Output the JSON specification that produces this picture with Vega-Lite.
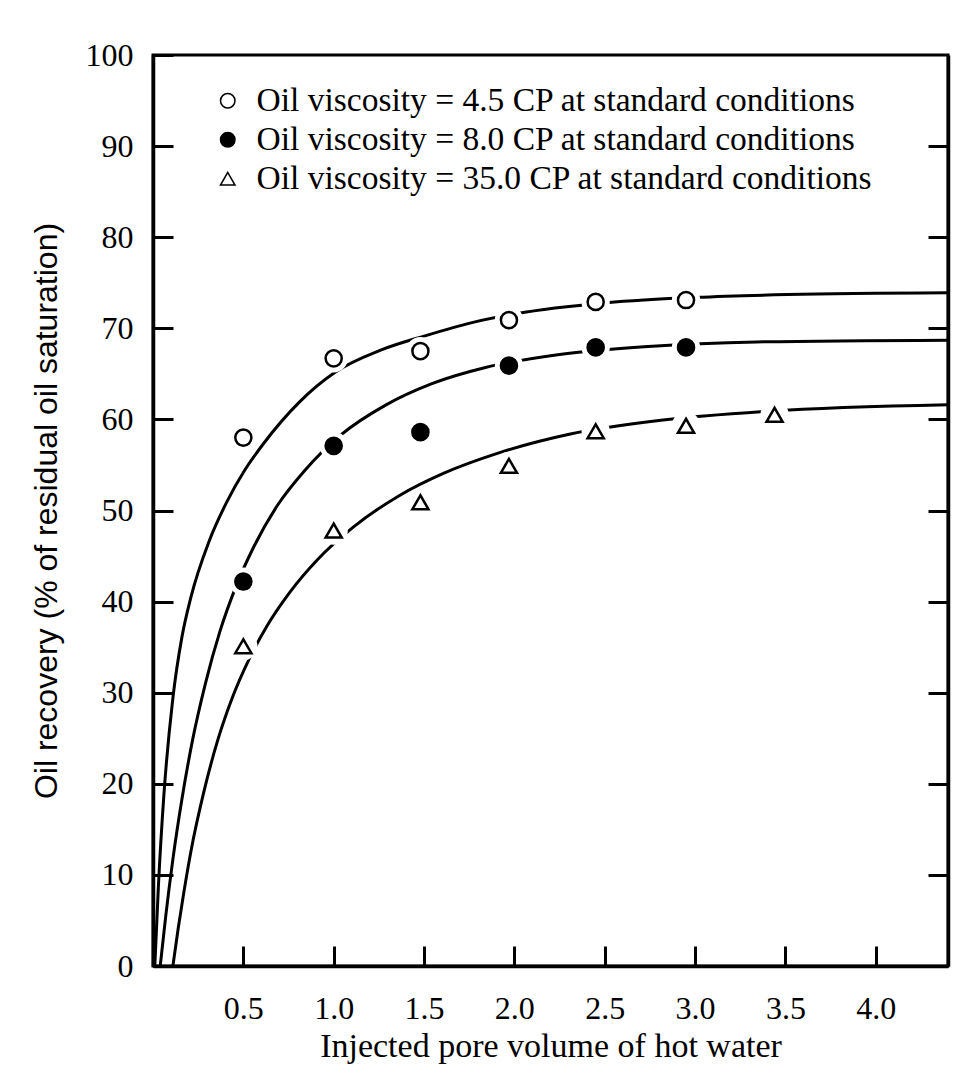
{
  "$schema": "https://vega.github.io/schema/vega-lite/v6.json",
  "width": 795,
  "height": 911,
  "autosize": {"type": "none"},
  "padding": {"left": 153, "top": 55, "right": 10, "bottom": 107},
  "background": "white",
  "config": {
    "view": {"stroke": "black", "strokeWidth": 3},
    "axis": {"grid": false}
  },
  "datasets": {
    "points": [
      {"series": "Oil viscosity = 4.5 CP at standard conditions", "pv": 0.5, "rec": 58.0},
      {"series": "Oil viscosity = 4.5 CP at standard conditions", "pv": 1.0, "rec": 66.7},
      {"series": "Oil viscosity = 4.5 CP at standard conditions", "pv": 1.48, "rec": 67.5},
      {"series": "Oil viscosity = 4.5 CP at standard conditions", "pv": 1.97, "rec": 70.9},
      {"series": "Oil viscosity = 4.5 CP at standard conditions", "pv": 2.45, "rec": 72.9},
      {"series": "Oil viscosity = 4.5 CP at standard conditions", "pv": 2.95, "rec": 73.1},
      {"series": "Oil viscosity = 8.0 CP at standard conditions", "pv": 0.5, "rec": 42.2},
      {"series": "Oil viscosity = 8.0 CP at standard conditions", "pv": 1.0, "rec": 57.1},
      {"series": "Oil viscosity = 8.0 CP at standard conditions", "pv": 1.48, "rec": 58.6},
      {"series": "Oil viscosity = 8.0 CP at standard conditions", "pv": 1.97, "rec": 65.9},
      {"series": "Oil viscosity = 8.0 CP at standard conditions", "pv": 2.45, "rec": 67.9},
      {"series": "Oil viscosity = 8.0 CP at standard conditions", "pv": 2.95, "rec": 67.9},
      {"series": "Oil viscosity = 35.0 CP at standard conditions", "pv": 0.5, "rec": 35.1},
      {"series": "Oil viscosity = 35.0 CP at standard conditions", "pv": 1.0, "rec": 47.8},
      {"series": "Oil viscosity = 35.0 CP at standard conditions", "pv": 1.48, "rec": 50.9},
      {"series": "Oil viscosity = 35.0 CP at standard conditions", "pv": 1.97, "rec": 54.9},
      {"series": "Oil viscosity = 35.0 CP at standard conditions", "pv": 2.45, "rec": 58.7},
      {"series": "Oil viscosity = 35.0 CP at standard conditions", "pv": 2.95, "rec": 59.3},
      {"series": "Oil viscosity = 35.0 CP at standard conditions", "pv": 3.44, "rec": 60.5}
    ],
    "curves": [
      {"series": "4.5", "pv": 0.01, "rec": 0},
      {"series": "4.5", "pv": 0.03, "rec": 8.8},
      {"series": "4.5", "pv": 0.06, "rec": 18.7},
      {"series": "4.5", "pv": 0.11, "rec": 29.4},
      {"series": "4.5", "pv": 0.16, "rec": 36.1},
      {"series": "4.5", "pv": 0.21, "rec": 40.5},
      {"series": "4.5", "pv": 0.31, "rec": 46.6},
      {"series": "4.5", "pv": 0.41, "rec": 51.0},
      {"series": "4.5", "pv": 0.51, "rec": 54.5},
      {"series": "4.5", "pv": 0.61, "rec": 57.3},
      {"series": "4.5", "pv": 0.81, "rec": 61.9},
      {"series": "4.5", "pv": 1.01, "rec": 65.2},
      {"series": "4.5", "pv": 1.26, "rec": 67.6},
      {"series": "4.5", "pv": 1.51, "rec": 69.2},
      {"series": "4.5", "pv": 1.76, "rec": 70.6},
      {"series": "4.5", "pv": 2.01, "rec": 71.6},
      {"series": "4.5", "pv": 2.51, "rec": 72.8},
      {"series": "4.5", "pv": 3.01, "rec": 73.4},
      {"series": "4.5", "pv": 3.51, "rec": 73.7},
      {"series": "4.5", "pv": 4.4, "rec": 73.9},
      {"series": "8.0", "pv": 0.04, "rec": 0},
      {"series": "8.0", "pv": 0.07, "rec": 5.4},
      {"series": "8.0", "pv": 0.11, "rec": 11.7},
      {"series": "8.0", "pv": 0.16, "rec": 18.3},
      {"series": "8.0", "pv": 0.22, "rec": 24.9},
      {"series": "8.0", "pv": 0.29, "rec": 31.0},
      {"series": "8.0", "pv": 0.37, "rec": 36.7},
      {"series": "8.0", "pv": 0.46, "rec": 41.7},
      {"series": "8.0", "pv": 0.56, "rec": 46.1},
      {"series": "8.0", "pv": 0.69, "rec": 50.6},
      {"series": "8.0", "pv": 0.84, "rec": 54.4},
      {"series": "8.0", "pv": 1.04, "rec": 58.3},
      {"series": "8.0", "pv": 1.29, "rec": 61.6},
      {"series": "8.0", "pv": 1.54, "rec": 63.9},
      {"series": "8.0", "pv": 1.84, "rec": 65.7},
      {"series": "8.0", "pv": 2.24, "rec": 67.1},
      {"series": "8.0", "pv": 2.74, "rec": 68.0},
      {"series": "8.0", "pv": 3.34, "rec": 68.5},
      {"series": "8.0", "pv": 4.4, "rec": 68.7},
      {"series": "35.0", "pv": 0.11, "rec": 0},
      {"series": "35.0", "pv": 0.14, "rec": 4.2},
      {"series": "35.0", "pv": 0.17, "rec": 8.0},
      {"series": "35.0", "pv": 0.21, "rec": 12.6},
      {"series": "35.0", "pv": 0.28, "rec": 19.0},
      {"series": "35.0", "pv": 0.36, "rec": 24.9},
      {"series": "35.0", "pv": 0.44, "rec": 29.5},
      {"series": "35.0", "pv": 0.53, "rec": 33.6},
      {"series": "35.0", "pv": 0.63, "rec": 37.3},
      {"series": "35.0", "pv": 0.76, "rec": 41.1},
      {"series": "35.0", "pv": 0.91, "rec": 44.6},
      {"series": "35.0", "pv": 1.11, "rec": 48.2},
      {"series": "35.0", "pv": 1.36, "rec": 51.6},
      {"series": "35.0", "pv": 1.61, "rec": 54.1},
      {"series": "35.0", "pv": 1.91, "rec": 56.3},
      {"series": "35.0", "pv": 2.31, "rec": 58.4},
      {"series": "35.0", "pv": 2.81, "rec": 59.9},
      {"series": "35.0", "pv": 3.41, "rec": 60.9},
      {"series": "35.0", "pv": 4.4, "rec": 61.6}
    ]
  },
  "layer": [
    {
      "data": {"name": "curves"},
      "mark": {"type": "line", "color": "black", "strokeWidth": 3, "interpolate": "monotone"},
      "encoding": {
        "x": {
          "field": "pv", "type": "quantitative",
          "scale": {"domain": [0, 4.4], "nice": false, "zero": false},
          "title": "Injected pore volume of hot water",
          "axis": {
            "values": [0.5, 1.0, 1.5, 2.0, 2.5, 3.0, 3.5, 4.0],
            "format": ".1f",
            "tickSize": -20, "tickWidth": 3, "tickColor": "black",
            "domainColor": "black", "domainWidth": 3.5,
            "labelPadding": 47, "labelFont": "Liberation Serif", "labelFontSize": 32, "labelColor": "black",
            "titleFont": "Liberation Serif", "titleFontSize": 34, "titleFontWeight": "normal", "titleColor": "black",
            "titlePadding": 5
          }
        },
        "y": {
          "field": "rec", "type": "quantitative",
          "scale": {"domain": [0, 100], "nice": false},
          "title": "Oil recovery (% of residual oil saturation)",
          "axis": {
            "orient": "left",
            "values": [0, 10, 20, 30, 40, 50, 60, 70, 80, 90, 100],
            "format": "d",
            "tickSize": -20, "tickWidth": 3, "tickColor": "black",
            "domainColor": "black", "domainWidth": 3.5,
            "labelPadding": 40, "labelFont": "Liberation Serif", "labelFontSize": 32, "labelColor": "black",
            "titleFont": "Liberation Sans", "titleFontSize": 32, "titleFontWeight": "normal", "titleColor": "black",
            "titlePadding": 22
          }
        },
        "detail": {"field": "series", "type": "nominal"}
      }
    },
    {
      "data": {"name": "points"},
      "mark": {"type": "circle", "color": "white", "opacity": 1, "size": 800},
      "encoding": {
        "x": {"field": "pv", "type": "quantitative", "scale": {"domain": [0, 4.4], "nice": false, "zero": false}, "title": "Injected pore volume of hot water"},
        "y": {"field": "rec", "type": "quantitative", "scale": {"domain": [0, 100], "nice": false}, "axis": null}
      }
    },
    {
      "data": {"name": "points"},
      "mark": {"type": "point", "filled": true, "stroke": "black", "strokeWidth": 2.5, "opacity": 1, "fillOpacity": 1, "strokeOpacity": 1, "size": 260},
      "encoding": {
        "x": {"field": "pv", "type": "quantitative", "scale": {"domain": [0, 4.4], "nice": false, "zero": false}, "title": "Injected pore volume of hot water"},
        "y": {"field": "rec", "type": "quantitative", "scale": {"domain": [0, 100], "nice": false}, "axis": null},
        "shape": {
          "field": "series", "type": "nominal",
          "scale": {
            "domain": ["Oil viscosity = 4.5 CP at standard conditions", "Oil viscosity = 8.0 CP at standard conditions", "Oil viscosity = 35.0 CP at standard conditions"],
            "range": ["circle", "circle", "triangle-up"]
          },
          "legend": {
            "title": null, "orient": "none", "legendX": 58, "legendY": 29, "padding": 0,
            "labelFont": "Liberation Serif", "labelFontSize": 33.5, "labelColor": "black", "labelLimit": 1000,
            "labelOffset": 12, "rowPadding": 4, "symbolSize": 210,
            "encode": {"symbols": {"update": {"stroke": {"value": "black"}, "strokeWidth": {"value": 2.5}, "opacity": {"value": 1}}}}
          }
        },
        "fill": {
          "field": "series", "type": "nominal",
          "scale": {
            "domain": ["Oil viscosity = 4.5 CP at standard conditions", "Oil viscosity = 8.0 CP at standard conditions", "Oil viscosity = 35.0 CP at standard conditions"],
            "range": ["white", "black", "white"]
          },
          "legend": {
            "title": null, "orient": "none", "legendX": 58, "legendY": 29, "padding": 0,
            "labelFont": "Liberation Serif", "labelFontSize": 33.5, "labelColor": "black", "labelLimit": 1000,
            "labelOffset": 12, "rowPadding": 4, "symbolSize": 210,
            "encode": {"symbols": {"update": {"stroke": {"value": "black"}, "strokeWidth": {"value": 2.5}, "opacity": {"value": 1}}}}
          }
        }
      }
    },
    {
      "data": {"name": "points"},
      "mark": {"type": "point", "opacity": 0},
      "encoding": {
        "x": {"field": "pv", "type": "quantitative", "scale": {"domain": [0, 4.4], "nice": false, "zero": false}, "title": "Injected pore volume of hot water"},
        "y": {
          "field": "rec", "type": "quantitative",
          "scale": {"domain": [0, 100], "nice": false},
          "axis": {
            "orient": "right", "title": null, "labels": false,
            "values": [10, 20, 30, 40, 50, 60, 70, 80, 90],
            "tickSize": -20, "tickWidth": 3, "tickColor": "black",
            "domainColor": "black", "domainWidth": 3.5
          }
        }
      }
    }
  ],
  "resolve": {"scale": {"y": "independent"}}
}
